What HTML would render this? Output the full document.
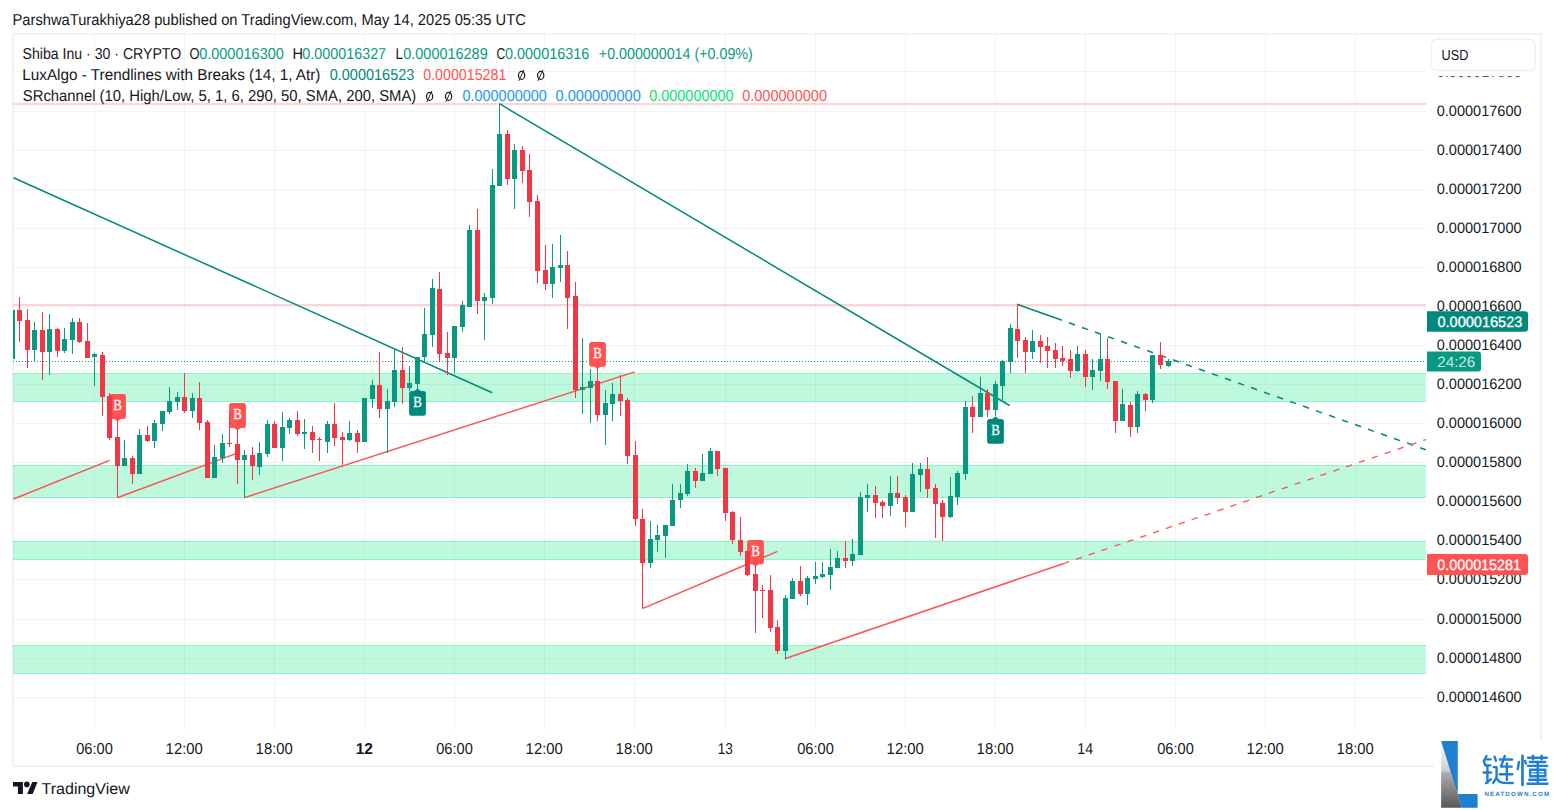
<!DOCTYPE html>
<html><head><meta charset="utf-8"><title>Shiba Inu chart</title>
<style>html,body{margin:0;padding:0;background:#fff;overflow:hidden}svg{display:block}text{text-rendering:geometricPrecision}</style>
</head><body>
<svg width="1554" height="810" viewBox="0 0 1554 810">
<rect width="1554" height="810" fill="#fff"/>
<g shape-rendering="crispEdges" fill="#f2f2f2">
<rect x="12" y="33" width="1530" height="2"/>
<rect x="12" y="765" width="1530" height="2"/>
<rect x="12" y="33" width="2" height="734"/>
<rect x="1540" y="33" width="2" height="734"/>
</g>
<text x="12.50" y="25" font-family="'Liberation Sans', sans-serif" font-size="15.8" font-weight="normal" fill="#131722" textLength="513.26" lengthAdjust="spacingAndGlyphs">ParshwaTurakhiya28 published on TradingView.com, May 14, 2025 05:35 UTC</text>
<defs><clipPath id="pane"><rect x="13" y="34" width="1413" height="697"/></clipPath></defs>
<g clip-path="url(#pane)">
<g shape-rendering="crispEdges" fill="rgba(42,46,57,0.06)">
<rect x="13" y="71" width="1413" height="1"/>
<rect x="13" y="111" width="1413" height="1"/>
<rect x="13" y="150" width="1413" height="1"/>
<rect x="13" y="189" width="1413" height="1"/>
<rect x="13" y="228" width="1413" height="1"/>
<rect x="13" y="267" width="1413" height="1"/>
<rect x="13" y="306" width="1413" height="1"/>
<rect x="13" y="345" width="1413" height="1"/>
<rect x="13" y="384" width="1413" height="1"/>
<rect x="13" y="423" width="1413" height="1"/>
<rect x="13" y="462" width="1413" height="1"/>
<rect x="13" y="501" width="1413" height="1"/>
<rect x="13" y="540" width="1413" height="1"/>
<rect x="13" y="579" width="1413" height="1"/>
<rect x="13" y="619" width="1413" height="1"/>
<rect x="13" y="658" width="1413" height="1"/>
<rect x="13" y="697" width="1413" height="1"/>
<rect x="94" y="34" width="1" height="697"/>
<rect x="184" y="34" width="1" height="697"/>
<rect x="274" y="34" width="1" height="697"/>
<rect x="364" y="34" width="1" height="697"/>
<rect x="454" y="34" width="1" height="697"/>
<rect x="544" y="34" width="1" height="697"/>
<rect x="634" y="34" width="1" height="697"/>
<rect x="725" y="34" width="1" height="697"/>
<rect x="815" y="34" width="1" height="697"/>
<rect x="905" y="34" width="1" height="697"/>
<rect x="995" y="34" width="1" height="697"/>
<rect x="1085" y="34" width="1" height="697"/>
<rect x="1175" y="34" width="1" height="697"/>
<rect x="1265" y="34" width="1" height="697"/>
<rect x="1355" y="34" width="1" height="697"/>
</g>
<g shape-rendering="crispEdges" fill="rgba(0,230,118,0.25)">
<rect x="13" y="373" width="1413" height="29"/>
<rect x="13" y="373" width="1413" height="1"/>
<rect x="13" y="401" width="1413" height="1"/>
<rect x="13" y="465" width="1413" height="33"/>
<rect x="13" y="465" width="1413" height="1"/>
<rect x="13" y="497" width="1413" height="1"/>
<rect x="13" y="541" width="1413" height="19"/>
<rect x="13" y="541" width="1413" height="1"/>
<rect x="13" y="559" width="1413" height="1"/>
<rect x="13" y="645" width="1413" height="29"/>
<rect x="13" y="645" width="1413" height="1"/>
<rect x="13" y="673" width="1413" height="1"/>
</g>
<g shape-rendering="crispEdges" fill="rgba(255,82,82,0.25)">
<rect x="13" y="103" width="1413" height="2"/>
<rect x="13" y="304" width="1413" height="2"/>
</g>
<line x1="13" y1="361.5" x2="1426" y2="361.5" stroke="#089981" stroke-width="1" stroke-dasharray="1 2" shape-rendering="crispEdges"/>
<line x1="13.5" y1="177.8" x2="492.2" y2="392.7" stroke="#00897b" stroke-width="1.5"/>
<line x1="499.4" y1="103.7" x2="1009.6" y2="405.5" stroke="#00897b" stroke-width="1.5"/>
<line x1="1016.9" y1="304.3" x2="1062" y2="320.3" stroke="#00897b" stroke-width="1.5"/>
<line x1="1069" y1="322.8298215595209" x2="1426" y2="449.8" stroke="#00897b" stroke-width="1.5" stroke-dasharray="6.4 7.4"/>
<line x1="13.5" y1="499" x2="109.6" y2="460.4" stroke="#ff5252" stroke-width="1.5"/>
<line x1="117.3" y1="497.7" x2="235.2" y2="453.9" stroke="#ff5252" stroke-width="1.5"/>
<line x1="244.4" y1="497.6" x2="634.7" y2="371.9" stroke="#ff5252" stroke-width="1.5"/>
<line x1="642.4" y1="608.6" x2="777.5" y2="551.4" stroke="#ff5252" stroke-width="1.5"/>
<line x1="784.8" y1="658.8" x2="1063.8" y2="563.5" stroke="#ff5252" stroke-width="1.5"/>
<line x1="1063.8" y1="563.5" x2="1426" y2="439.5" stroke="#ff5252" stroke-width="1.3" stroke-dasharray="6.4 7.2" stroke-dashoffset="0.9"/>
<path d="M111.6,394.1 H123.4 Q125.9,394.1 125.9,396.6 V416.5 Q125.9,419.0 123.4,419.0 H120.8 L117.5,421.3 L114.2,419.0 H111.6 Q109.1,419.0 109.1,416.5 V396.6 Q109.1,394.1 111.6,394.1 Z" fill="#ff5252"/>
<text x="113.33" y="410.25" font-family="'Liberation Serif', serif" font-size="15.4" font-weight="normal" fill="#fff" textLength="8.60" lengthAdjust="spacingAndGlyphs" stroke="#fff" stroke-width="0.35">B</text>
<path d="M231.6,403.0 H243.4 Q245.9,403.0 245.9,405.5 V425.6 Q245.9,428.1 243.4,428.1 H240.8 L237.5,430.4 L234.2,428.1 H231.6 Q229.1,428.1 229.1,425.6 V405.5 Q229.1,403.0 231.6,403.0 Z" fill="#ff5252"/>
<text x="233.33" y="419.25" font-family="'Liberation Serif', serif" font-size="15.4" font-weight="normal" fill="#fff" textLength="8.60" lengthAdjust="spacingAndGlyphs" stroke="#fff" stroke-width="0.35">B</text>
<path d="M591.6,342.0 H603.4 Q605.9,342.0 605.9,344.5 V364.2 Q605.9,366.7 603.4,366.7 H600.8 L597.5,368.9 L594.2,366.7 H591.6 Q589.1,366.7 589.1,364.2 V344.5 Q589.1,342.0 591.6,342.0 Z" fill="#ff5252"/>
<text x="593.33" y="358.05" font-family="'Liberation Serif', serif" font-size="15.4" font-weight="normal" fill="#fff" textLength="8.60" lengthAdjust="spacingAndGlyphs" stroke="#fff" stroke-width="0.35">B</text>
<path d="M749.6,540.0 H761.4 Q763.9,540.0 763.9,542.5 V561.8 Q763.9,564.3 761.4,564.3 H758.8 L755.5,566.8 L752.2,564.3 H749.6 Q747.1,564.3 747.1,561.8 V542.5 Q747.1,540.0 749.6,540.0 Z" fill="#ff5252"/>
<text x="751.33" y="555.85" font-family="'Liberation Serif', serif" font-size="15.4" font-weight="normal" fill="#fff" textLength="8.60" lengthAdjust="spacingAndGlyphs" stroke="#fff" stroke-width="0.35">B</text>
<path d="M411.6,391.1 H414.2 L417.5,388.6 L420.8,391.1 H423.4 Q425.9,391.1 425.9,393.6 V413.3 Q425.9,415.8 423.4,415.8 H411.6 Q409.1,415.8 409.1,413.3 V393.6 Q409.1,391.1 411.6,391.1 Z" fill="#00897b"/>
<text x="413.33" y="407.15" font-family="'Liberation Serif', serif" font-size="15.4" font-weight="normal" fill="#fff" textLength="8.60" lengthAdjust="spacingAndGlyphs" stroke="#fff" stroke-width="0.35">B</text>
<path d="M989.6,419.1 H992.2 L995.5,416.6 L998.8,419.1 H1001.4 Q1003.9,419.1 1003.9,421.6 V441.2 Q1003.9,443.7 1001.4,443.7 H989.6 Q987.1,443.7 987.1,441.2 V421.6 Q987.1,419.1 989.6,419.1 Z" fill="#00897b"/>
<text x="991.33" y="435.1" font-family="'Liberation Serif', serif" font-size="15.4" font-weight="normal" fill="#fff" textLength="8.60" lengthAdjust="spacingAndGlyphs" stroke="#fff" stroke-width="0.35">B</text>
<g shape-rendering="crispEdges">
<rect x="12" y="310" width="1" height="49" fill="#089981"/>
<rect x="10" y="310" width="5" height="49" fill="#089981"/>
<rect x="19" y="297" width="1" height="45" fill="#f23645"/>
<rect x="17" y="310" width="5" height="11" fill="#f23645"/>
<rect x="27" y="309" width="1" height="59" fill="#f23645"/>
<rect x="25" y="320" width="5" height="30" fill="#f23645"/>
<rect x="34" y="322" width="1" height="40" fill="#089981"/>
<rect x="32" y="330" width="5" height="20" fill="#089981"/>
<rect x="42" y="312" width="1" height="68" fill="#f23645"/>
<rect x="40" y="330" width="5" height="22" fill="#f23645"/>
<rect x="49" y="314" width="1" height="61" fill="#089981"/>
<rect x="47" y="329" width="5" height="23" fill="#089981"/>
<rect x="57" y="328" width="1" height="29" fill="#f23645"/>
<rect x="55" y="329" width="5" height="22" fill="#f23645"/>
<rect x="64" y="328" width="1" height="25" fill="#089981"/>
<rect x="62" y="339" width="5" height="12" fill="#089981"/>
<rect x="72" y="318" width="1" height="36" fill="#089981"/>
<rect x="70" y="322" width="5" height="18" fill="#089981"/>
<rect x="79" y="318" width="1" height="25" fill="#f23645"/>
<rect x="77" y="322" width="5" height="20" fill="#f23645"/>
<rect x="87" y="323" width="1" height="35" fill="#f23645"/>
<rect x="85" y="341" width="5" height="17" fill="#f23645"/>
<rect x="94" y="353" width="1" height="33" fill="#089981"/>
<rect x="92" y="354" width="5" height="3" fill="#089981"/>
<rect x="102" y="352" width="1" height="64" fill="#f23645"/>
<rect x="100" y="355" width="5" height="42" fill="#f23645"/>
<rect x="109" y="393" width="1" height="47" fill="#f23645"/>
<rect x="107" y="396" width="5" height="42" fill="#f23645"/>
<rect x="117" y="419" width="1" height="79" fill="#f23645"/>
<rect x="115" y="437" width="5" height="29" fill="#f23645"/>
<rect x="124" y="440" width="1" height="26" fill="#089981"/>
<rect x="122" y="458" width="5" height="8" fill="#089981"/>
<rect x="132" y="456" width="1" height="28" fill="#f23645"/>
<rect x="130" y="458" width="5" height="16" fill="#f23645"/>
<rect x="139" y="429" width="1" height="45" fill="#089981"/>
<rect x="137" y="435" width="5" height="39" fill="#089981"/>
<rect x="147" y="426" width="1" height="16" fill="#f23645"/>
<rect x="145" y="435" width="5" height="6" fill="#f23645"/>
<rect x="154" y="420" width="1" height="28" fill="#089981"/>
<rect x="152" y="423" width="5" height="18" fill="#089981"/>
<rect x="162" y="411" width="1" height="20" fill="#089981"/>
<rect x="160" y="411" width="5" height="13" fill="#089981"/>
<rect x="169" y="387" width="1" height="27" fill="#089981"/>
<rect x="167" y="401" width="5" height="11" fill="#089981"/>
<rect x="177" y="392" width="1" height="18" fill="#089981"/>
<rect x="175" y="397" width="5" height="5" fill="#089981"/>
<rect x="184" y="373" width="1" height="40" fill="#f23645"/>
<rect x="182" y="397" width="5" height="14" fill="#f23645"/>
<rect x="192" y="393" width="1" height="25" fill="#089981"/>
<rect x="190" y="398" width="5" height="13" fill="#089981"/>
<rect x="199" y="382" width="1" height="48" fill="#f23645"/>
<rect x="197" y="398" width="5" height="25" fill="#f23645"/>
<rect x="207" y="420" width="1" height="58" fill="#f23645"/>
<rect x="205" y="422" width="5" height="56" fill="#f23645"/>
<rect x="214" y="445" width="1" height="33" fill="#089981"/>
<rect x="212" y="457" width="5" height="21" fill="#089981"/>
<rect x="222" y="434" width="1" height="29" fill="#089981"/>
<rect x="220" y="443" width="5" height="15" fill="#089981"/>
<rect x="229" y="413" width="1" height="34" fill="#f23645"/>
<rect x="227" y="443" width="5" height="1" fill="#f23645"/>
<rect x="237" y="430" width="1" height="54" fill="#f23645"/>
<rect x="235" y="444" width="5" height="16" fill="#f23645"/>
<rect x="244" y="450" width="1" height="48" fill="#089981"/>
<rect x="242" y="455" width="5" height="5" fill="#089981"/>
<rect x="252" y="447" width="1" height="33" fill="#f23645"/>
<rect x="250" y="455" width="5" height="11" fill="#f23645"/>
<rect x="259" y="442" width="1" height="33" fill="#089981"/>
<rect x="257" y="453" width="5" height="14" fill="#089981"/>
<rect x="267" y="420" width="1" height="37" fill="#089981"/>
<rect x="265" y="424" width="5" height="30" fill="#089981"/>
<rect x="274" y="421" width="1" height="27" fill="#f23645"/>
<rect x="272" y="424" width="5" height="24" fill="#f23645"/>
<rect x="282" y="412" width="1" height="49" fill="#089981"/>
<rect x="280" y="427" width="5" height="21" fill="#089981"/>
<rect x="289" y="418" width="1" height="16" fill="#089981"/>
<rect x="287" y="420" width="5" height="8" fill="#089981"/>
<rect x="297" y="411" width="1" height="25" fill="#f23645"/>
<rect x="295" y="420" width="5" height="14" fill="#f23645"/>
<rect x="304" y="419" width="1" height="30" fill="#089981"/>
<rect x="302" y="432" width="5" height="2" fill="#089981"/>
<rect x="312" y="426" width="1" height="27" fill="#f23645"/>
<rect x="310" y="432" width="5" height="8" fill="#f23645"/>
<rect x="319" y="437" width="1" height="24" fill="#f23645"/>
<rect x="317" y="439" width="5" height="1" fill="#f23645"/>
<rect x="327" y="421" width="1" height="32" fill="#089981"/>
<rect x="325" y="424" width="5" height="18" fill="#089981"/>
<rect x="334" y="403" width="1" height="43" fill="#f23645"/>
<rect x="332" y="424" width="5" height="14" fill="#f23645"/>
<rect x="342" y="432" width="1" height="33" fill="#f23645"/>
<rect x="340" y="437" width="5" height="3" fill="#f23645"/>
<rect x="349" y="421" width="1" height="20" fill="#089981"/>
<rect x="347" y="433" width="5" height="7" fill="#089981"/>
<rect x="357" y="430" width="1" height="23" fill="#f23645"/>
<rect x="355" y="433" width="5" height="9" fill="#f23645"/>
<rect x="364" y="398" width="1" height="44" fill="#089981"/>
<rect x="362" y="398" width="5" height="44" fill="#089981"/>
<rect x="372" y="380" width="1" height="28" fill="#089981"/>
<rect x="370" y="385" width="5" height="14" fill="#089981"/>
<rect x="379" y="352" width="1" height="66" fill="#f23645"/>
<rect x="377" y="385" width="5" height="24" fill="#f23645"/>
<rect x="387" y="389" width="1" height="64" fill="#089981"/>
<rect x="385" y="401" width="5" height="8" fill="#089981"/>
<rect x="394" y="349" width="1" height="58" fill="#089981"/>
<rect x="392" y="370" width="5" height="32" fill="#089981"/>
<rect x="402" y="347" width="1" height="57" fill="#f23645"/>
<rect x="400" y="370" width="5" height="18" fill="#f23645"/>
<rect x="409" y="366" width="1" height="25" fill="#089981"/>
<rect x="407" y="383" width="5" height="5" fill="#089981"/>
<rect x="417" y="357" width="1" height="32" fill="#089981"/>
<rect x="415" y="357" width="5" height="27" fill="#089981"/>
<rect x="424" y="308" width="1" height="55" fill="#089981"/>
<rect x="422" y="334" width="5" height="23" fill="#089981"/>
<rect x="432" y="279" width="1" height="68" fill="#089981"/>
<rect x="430" y="288" width="5" height="47" fill="#089981"/>
<rect x="439" y="272" width="1" height="90" fill="#f23645"/>
<rect x="437" y="289" width="5" height="65" fill="#f23645"/>
<rect x="447" y="332" width="1" height="43" fill="#f23645"/>
<rect x="445" y="353" width="5" height="5" fill="#f23645"/>
<rect x="454" y="326" width="1" height="47" fill="#089981"/>
<rect x="452" y="326" width="5" height="32" fill="#089981"/>
<rect x="462" y="301" width="1" height="31" fill="#089981"/>
<rect x="460" y="305" width="5" height="22" fill="#089981"/>
<rect x="469" y="225" width="1" height="82" fill="#089981"/>
<rect x="467" y="230" width="5" height="77" fill="#089981"/>
<rect x="477" y="209" width="1" height="105" fill="#f23645"/>
<rect x="475" y="230" width="5" height="71" fill="#f23645"/>
<rect x="484" y="293" width="1" height="47" fill="#089981"/>
<rect x="482" y="297" width="5" height="4" fill="#089981"/>
<rect x="492" y="169" width="1" height="135" fill="#089981"/>
<rect x="490" y="185" width="5" height="113" fill="#089981"/>
<rect x="499" y="104" width="1" height="82" fill="#089981"/>
<rect x="497" y="134" width="5" height="52" fill="#089981"/>
<rect x="507" y="130" width="1" height="55" fill="#f23645"/>
<rect x="505" y="134" width="5" height="45" fill="#f23645"/>
<rect x="514" y="144" width="1" height="65" fill="#089981"/>
<rect x="512" y="150" width="5" height="29" fill="#089981"/>
<rect x="522" y="146" width="1" height="37" fill="#f23645"/>
<rect x="520" y="150" width="5" height="21" fill="#f23645"/>
<rect x="529" y="154" width="1" height="63" fill="#f23645"/>
<rect x="527" y="170" width="5" height="32" fill="#f23645"/>
<rect x="537" y="195" width="1" height="88" fill="#f23645"/>
<rect x="535" y="201" width="5" height="70" fill="#f23645"/>
<rect x="545" y="245" width="1" height="45" fill="#f23645"/>
<rect x="543" y="270" width="5" height="14" fill="#f23645"/>
<rect x="552" y="244" width="1" height="54" fill="#089981"/>
<rect x="550" y="267" width="5" height="17" fill="#089981"/>
<rect x="560" y="235" width="1" height="47" fill="#089981"/>
<rect x="558" y="265" width="5" height="3" fill="#089981"/>
<rect x="567" y="251" width="1" height="78" fill="#f23645"/>
<rect x="565" y="265" width="5" height="33" fill="#f23645"/>
<rect x="575" y="282" width="1" height="116" fill="#f23645"/>
<rect x="573" y="296" width="5" height="94" fill="#f23645"/>
<rect x="582" y="338" width="1" height="76" fill="#089981"/>
<rect x="580" y="387" width="5" height="3" fill="#089981"/>
<rect x="590" y="369" width="1" height="54" fill="#089981"/>
<rect x="588" y="381" width="5" height="7" fill="#089981"/>
<rect x="597" y="369" width="1" height="52" fill="#f23645"/>
<rect x="595" y="381" width="5" height="34" fill="#f23645"/>
<rect x="605" y="390" width="1" height="55" fill="#089981"/>
<rect x="603" y="403" width="5" height="12" fill="#089981"/>
<rect x="612" y="383" width="1" height="38" fill="#089981"/>
<rect x="610" y="394" width="5" height="10" fill="#089981"/>
<rect x="620" y="375" width="1" height="41" fill="#f23645"/>
<rect x="618" y="394" width="5" height="7" fill="#f23645"/>
<rect x="627" y="398" width="1" height="66" fill="#f23645"/>
<rect x="625" y="400" width="5" height="56" fill="#f23645"/>
<rect x="635" y="441" width="1" height="85" fill="#f23645"/>
<rect x="633" y="455" width="5" height="64" fill="#f23645"/>
<rect x="642" y="509" width="1" height="99" fill="#f23645"/>
<rect x="640" y="519" width="5" height="44" fill="#f23645"/>
<rect x="650" y="521" width="1" height="47" fill="#089981"/>
<rect x="648" y="539" width="5" height="24" fill="#089981"/>
<rect x="657" y="525" width="1" height="27" fill="#089981"/>
<rect x="655" y="535" width="5" height="5" fill="#089981"/>
<rect x="665" y="525" width="1" height="33" fill="#089981"/>
<rect x="663" y="525" width="5" height="11" fill="#089981"/>
<rect x="672" y="484" width="1" height="42" fill="#089981"/>
<rect x="670" y="500" width="5" height="26" fill="#089981"/>
<rect x="680" y="484" width="1" height="24" fill="#089981"/>
<rect x="678" y="493" width="5" height="7" fill="#089981"/>
<rect x="687" y="464" width="1" height="32" fill="#089981"/>
<rect x="685" y="471" width="5" height="23" fill="#089981"/>
<rect x="695" y="468" width="1" height="20" fill="#f23645"/>
<rect x="693" y="471" width="5" height="10" fill="#f23645"/>
<rect x="702" y="454" width="1" height="27" fill="#089981"/>
<rect x="700" y="473" width="5" height="8" fill="#089981"/>
<rect x="710" y="448" width="1" height="26" fill="#089981"/>
<rect x="708" y="451" width="5" height="23" fill="#089981"/>
<rect x="717" y="451" width="1" height="25" fill="#f23645"/>
<rect x="715" y="451" width="5" height="18" fill="#f23645"/>
<rect x="725" y="468" width="1" height="53" fill="#f23645"/>
<rect x="723" y="468" width="5" height="45" fill="#f23645"/>
<rect x="732" y="511" width="1" height="33" fill="#f23645"/>
<rect x="730" y="512" width="5" height="28" fill="#f23645"/>
<rect x="740" y="517" width="1" height="39" fill="#f23645"/>
<rect x="738" y="540" width="5" height="12" fill="#f23645"/>
<rect x="747" y="551" width="1" height="25" fill="#f23645"/>
<rect x="745" y="551" width="5" height="24" fill="#f23645"/>
<rect x="755" y="566" width="1" height="67" fill="#f23645"/>
<rect x="753" y="574" width="5" height="17" fill="#f23645"/>
<rect x="762" y="585" width="1" height="33" fill="#f23645"/>
<rect x="760" y="590" width="5" height="1" fill="#f23645"/>
<rect x="770" y="575" width="1" height="57" fill="#f23645"/>
<rect x="768" y="590" width="5" height="38" fill="#f23645"/>
<rect x="777" y="620" width="1" height="34" fill="#f23645"/>
<rect x="775" y="627" width="5" height="24" fill="#f23645"/>
<rect x="785" y="595" width="1" height="64" fill="#089981"/>
<rect x="783" y="598" width="5" height="53" fill="#089981"/>
<rect x="792" y="578" width="1" height="21" fill="#089981"/>
<rect x="790" y="581" width="5" height="18" fill="#089981"/>
<rect x="800" y="566" width="1" height="30" fill="#f23645"/>
<rect x="798" y="581" width="5" height="13" fill="#f23645"/>
<rect x="807" y="576" width="1" height="29" fill="#089981"/>
<rect x="805" y="578" width="5" height="16" fill="#089981"/>
<rect x="815" y="562" width="1" height="22" fill="#089981"/>
<rect x="813" y="576" width="5" height="3" fill="#089981"/>
<rect x="822" y="562" width="1" height="16" fill="#089981"/>
<rect x="820" y="574" width="5" height="3" fill="#089981"/>
<rect x="830" y="549" width="1" height="41" fill="#089981"/>
<rect x="828" y="567" width="5" height="8" fill="#089981"/>
<rect x="837" y="551" width="1" height="17" fill="#089981"/>
<rect x="835" y="558" width="5" height="10" fill="#089981"/>
<rect x="845" y="541" width="1" height="27" fill="#f23645"/>
<rect x="843" y="558" width="5" height="3" fill="#f23645"/>
<rect x="852" y="539" width="1" height="27" fill="#089981"/>
<rect x="850" y="554" width="5" height="7" fill="#089981"/>
<rect x="860" y="492" width="1" height="63" fill="#089981"/>
<rect x="858" y="497" width="5" height="58" fill="#089981"/>
<rect x="867" y="484" width="1" height="28" fill="#089981"/>
<rect x="865" y="495" width="5" height="3" fill="#089981"/>
<rect x="875" y="486" width="1" height="32" fill="#f23645"/>
<rect x="873" y="495" width="5" height="8" fill="#f23645"/>
<rect x="882" y="500" width="1" height="18" fill="#f23645"/>
<rect x="880" y="502" width="5" height="4" fill="#f23645"/>
<rect x="890" y="476" width="1" height="40" fill="#089981"/>
<rect x="888" y="493" width="5" height="13" fill="#089981"/>
<rect x="897" y="476" width="1" height="28" fill="#f23645"/>
<rect x="895" y="493" width="5" height="5" fill="#f23645"/>
<rect x="905" y="495" width="1" height="32" fill="#f23645"/>
<rect x="903" y="497" width="5" height="15" fill="#f23645"/>
<rect x="912" y="463" width="1" height="49" fill="#089981"/>
<rect x="910" y="474" width="5" height="38" fill="#089981"/>
<rect x="920" y="463" width="1" height="29" fill="#089981"/>
<rect x="918" y="469" width="5" height="6" fill="#089981"/>
<rect x="927" y="457" width="1" height="41" fill="#f23645"/>
<rect x="925" y="469" width="5" height="20" fill="#f23645"/>
<rect x="935" y="484" width="1" height="54" fill="#f23645"/>
<rect x="933" y="488" width="5" height="16" fill="#f23645"/>
<rect x="942" y="500" width="1" height="41" fill="#f23645"/>
<rect x="940" y="503" width="5" height="14" fill="#f23645"/>
<rect x="950" y="477" width="1" height="41" fill="#089981"/>
<rect x="948" y="496" width="5" height="21" fill="#089981"/>
<rect x="957" y="471" width="1" height="34" fill="#089981"/>
<rect x="955" y="473" width="5" height="24" fill="#089981"/>
<rect x="965" y="401" width="1" height="79" fill="#089981"/>
<rect x="963" y="407" width="5" height="67" fill="#089981"/>
<rect x="972" y="396" width="1" height="37" fill="#f23645"/>
<rect x="970" y="407" width="5" height="10" fill="#f23645"/>
<rect x="980" y="377" width="1" height="40" fill="#089981"/>
<rect x="978" y="393" width="5" height="24" fill="#089981"/>
<rect x="987" y="389" width="1" height="28" fill="#f23645"/>
<rect x="985" y="393" width="5" height="17" fill="#f23645"/>
<rect x="995" y="381" width="1" height="35" fill="#089981"/>
<rect x="993" y="384" width="5" height="26" fill="#089981"/>
<rect x="1002" y="360" width="1" height="40" fill="#089981"/>
<rect x="1000" y="361" width="5" height="25" fill="#089981"/>
<rect x="1010" y="324" width="1" height="49" fill="#089981"/>
<rect x="1008" y="328" width="5" height="34" fill="#089981"/>
<rect x="1017" y="304" width="1" height="54" fill="#f23645"/>
<rect x="1015" y="329" width="5" height="12" fill="#f23645"/>
<rect x="1025" y="337" width="1" height="36" fill="#f23645"/>
<rect x="1023" y="340" width="5" height="12" fill="#f23645"/>
<rect x="1032" y="330" width="1" height="29" fill="#089981"/>
<rect x="1030" y="341" width="5" height="11" fill="#089981"/>
<rect x="1040" y="335" width="1" height="28" fill="#f23645"/>
<rect x="1038" y="341" width="5" height="6" fill="#f23645"/>
<rect x="1047" y="337" width="1" height="31" fill="#f23645"/>
<rect x="1045" y="346" width="5" height="5" fill="#f23645"/>
<rect x="1055" y="343" width="1" height="25" fill="#f23645"/>
<rect x="1053" y="350" width="5" height="9" fill="#f23645"/>
<rect x="1062" y="346" width="1" height="20" fill="#f23645"/>
<rect x="1060" y="358" width="5" height="3" fill="#f23645"/>
<rect x="1070" y="350" width="1" height="28" fill="#f23645"/>
<rect x="1068" y="359" width="5" height="12" fill="#f23645"/>
<rect x="1077" y="346" width="1" height="26" fill="#089981"/>
<rect x="1075" y="354" width="5" height="17" fill="#089981"/>
<rect x="1085" y="350" width="1" height="37" fill="#f23645"/>
<rect x="1083" y="354" width="5" height="23" fill="#f23645"/>
<rect x="1092" y="359" width="1" height="31" fill="#089981"/>
<rect x="1090" y="370" width="5" height="7" fill="#089981"/>
<rect x="1100" y="335" width="1" height="46" fill="#089981"/>
<rect x="1098" y="359" width="5" height="12" fill="#089981"/>
<rect x="1107" y="338" width="1" height="51" fill="#f23645"/>
<rect x="1105" y="359" width="5" height="23" fill="#f23645"/>
<rect x="1115" y="381" width="1" height="52" fill="#f23645"/>
<rect x="1113" y="381" width="5" height="40" fill="#f23645"/>
<rect x="1122" y="389" width="1" height="32" fill="#089981"/>
<rect x="1120" y="404" width="5" height="17" fill="#089981"/>
<rect x="1130" y="402" width="1" height="35" fill="#f23645"/>
<rect x="1128" y="405" width="5" height="22" fill="#f23645"/>
<rect x="1137" y="391" width="1" height="42" fill="#089981"/>
<rect x="1135" y="394" width="5" height="33" fill="#089981"/>
<rect x="1145" y="393" width="1" height="18" fill="#f23645"/>
<rect x="1143" y="394" width="5" height="6" fill="#f23645"/>
<rect x="1152" y="355" width="1" height="48" fill="#089981"/>
<rect x="1150" y="355" width="5" height="45" fill="#089981"/>
<rect x="1160" y="342" width="1" height="27" fill="#f23645"/>
<rect x="1158" y="355" width="5" height="10" fill="#f23645"/>
<rect x="1168" y="359" width="1" height="8" fill="#089981"/>
<rect x="1166" y="361" width="5" height="5" fill="#089981"/>
</g>
</g>
<text x="22.56" y="59" font-family="'Liberation Sans', sans-serif" font-size="15.8" font-weight="normal" fill="#131722" textLength="158.61" lengthAdjust="spacingAndGlyphs">Shiba Inu · 30 · CRYPTO</text>
<text x="189.59" y="59" font-family="'Liberation Sans', sans-serif" font-size="15.8" font-weight="normal" fill="#131722" textLength="10.03" lengthAdjust="spacingAndGlyphs">O</text>
<text x="199.13" y="59" font-family="'Liberation Sans', sans-serif" font-size="15.8" font-weight="normal" fill="#089981" textLength="84.73" lengthAdjust="spacingAndGlyphs">0.000016300</text>
<text x="292.51" y="59" font-family="'Liberation Sans', sans-serif" font-size="15.8" font-weight="normal" fill="#131722" textLength="10.47" lengthAdjust="spacingAndGlyphs">H</text>
<text x="302.34" y="59" font-family="'Liberation Sans', sans-serif" font-size="15.8" font-weight="normal" fill="#089981" textLength="83.78" lengthAdjust="spacingAndGlyphs">0.000016327</text>
<text x="395.60" y="59" font-family="'Liberation Sans', sans-serif" font-size="15.8" font-weight="normal" fill="#131722" textLength="7.44" lengthAdjust="spacingAndGlyphs">L</text>
<text x="403.24" y="59" font-family="'Liberation Sans', sans-serif" font-size="15.8" font-weight="normal" fill="#089981" textLength="84.45" lengthAdjust="spacingAndGlyphs">0.000016289</text>
<text x="496.48" y="59" font-family="'Liberation Sans', sans-serif" font-size="15.8" font-weight="normal" fill="#131722" textLength="8.78" lengthAdjust="spacingAndGlyphs">C</text>
<text x="504.93" y="59" font-family="'Liberation Sans', sans-serif" font-size="15.8" font-weight="normal" fill="#089981" textLength="84.50" lengthAdjust="spacingAndGlyphs">0.000016316</text>
<text x="598.80" y="59" font-family="'Liberation Sans', sans-serif" font-size="15.8" font-weight="normal" fill="#089981" textLength="153.98" lengthAdjust="spacingAndGlyphs">+0.000000014 (+0.09%)</text>
<text x="22.25" y="80" font-family="'Liberation Sans', sans-serif" font-size="15.8" font-weight="normal" fill="#131722" textLength="298.19" lengthAdjust="spacingAndGlyphs">LuxAlgo - Trendlines with Breaks (14, 1, Atr)</text>
<text x="329.73" y="80" font-family="'Liberation Sans', sans-serif" font-size="15.8" font-weight="normal" fill="#00897b" textLength="84.60" lengthAdjust="spacingAndGlyphs">0.000016523</text>
<text x="423.24" y="80" font-family="'Liberation Sans', sans-serif" font-size="15.8" font-weight="normal" fill="#ff5252" textLength="83.15" lengthAdjust="spacingAndGlyphs">0.000015281</text>
<ellipse cx="521.6" cy="75.4" rx="3.1" ry="4.0" fill="none" stroke="#131722" stroke-width="1.2"/>
<line x1="524.0" y1="69.80000000000001" x2="518.8000000000001" y2="80.9" stroke="#131722" stroke-width="0.9"/>
<ellipse cx="540.7" cy="75.4" rx="3.1" ry="4.0" fill="none" stroke="#131722" stroke-width="1.2"/>
<line x1="543.1" y1="69.80000000000001" x2="537.9000000000001" y2="80.9" stroke="#131722" stroke-width="0.9"/>
<text x="22.83" y="101" font-family="'Liberation Sans', sans-serif" font-size="15.8" font-weight="normal" fill="#131722" textLength="393.49" lengthAdjust="spacingAndGlyphs">SRchannel (10, High/Low, 5, 1, 6, 290, 50, SMA, 200, SMA)</text>
<ellipse cx="429.6" cy="96.4" rx="3.1" ry="4.0" fill="none" stroke="#131722" stroke-width="1.2"/>
<line x1="432.0" y1="90.80000000000001" x2="426.8" y2="101.9" stroke="#131722" stroke-width="0.9"/>
<ellipse cx="448.6" cy="96.4" rx="3.1" ry="4.0" fill="none" stroke="#131722" stroke-width="1.2"/>
<line x1="451.0" y1="90.80000000000001" x2="445.8" y2="101.9" stroke="#131722" stroke-width="0.9"/>
<text x="462.44" y="101" font-family="'Liberation Sans', sans-serif" font-size="15.8" font-weight="normal" fill="#2196f3" textLength="84.43" lengthAdjust="spacingAndGlyphs">0.000000000</text>
<text x="555.53" y="101" font-family="'Liberation Sans', sans-serif" font-size="15.8" font-weight="normal" fill="#2196f3" textLength="85.34" lengthAdjust="spacingAndGlyphs">0.000000000</text>
<text x="649.24" y="101" font-family="'Liberation Sans', sans-serif" font-size="15.8" font-weight="normal" fill="#00e676" textLength="84.33" lengthAdjust="spacingAndGlyphs">0.000000000</text>
<text x="742.13" y="101" font-family="'Liberation Sans', sans-serif" font-size="15.8" font-weight="normal" fill="#ff5252" textLength="84.84" lengthAdjust="spacingAndGlyphs">0.000000000</text>
<text x="1436.73" y="77.1" font-family="'Liberation Sans', sans-serif" font-size="15" font-weight="normal" fill="#131722" textLength="84.84" lengthAdjust="spacingAndGlyphs">0.000017800</text>
<text x="1436.73" y="116.4" font-family="'Liberation Sans', sans-serif" font-size="15" font-weight="normal" fill="#131722" textLength="84.84" lengthAdjust="spacingAndGlyphs">0.000017600</text>
<text x="1436.73" y="155.4" font-family="'Liberation Sans', sans-serif" font-size="15" font-weight="normal" fill="#131722" textLength="84.84" lengthAdjust="spacingAndGlyphs">0.000017400</text>
<text x="1436.73" y="194.4" font-family="'Liberation Sans', sans-serif" font-size="15" font-weight="normal" fill="#131722" textLength="84.84" lengthAdjust="spacingAndGlyphs">0.000017200</text>
<text x="1436.73" y="233.4" font-family="'Liberation Sans', sans-serif" font-size="15" font-weight="normal" fill="#131722" textLength="84.84" lengthAdjust="spacingAndGlyphs">0.000017000</text>
<text x="1436.73" y="272.4" font-family="'Liberation Sans', sans-serif" font-size="15" font-weight="normal" fill="#131722" textLength="84.84" lengthAdjust="spacingAndGlyphs">0.000016800</text>
<text x="1436.73" y="311.4" font-family="'Liberation Sans', sans-serif" font-size="15" font-weight="normal" fill="#131722" textLength="84.84" lengthAdjust="spacingAndGlyphs">0.000016600</text>
<text x="1436.73" y="350.4" font-family="'Liberation Sans', sans-serif" font-size="15" font-weight="normal" fill="#131722" textLength="84.84" lengthAdjust="spacingAndGlyphs">0.000016400</text>
<text x="1436.73" y="389.4" font-family="'Liberation Sans', sans-serif" font-size="15" font-weight="normal" fill="#131722" textLength="84.84" lengthAdjust="spacingAndGlyphs">0.000016200</text>
<text x="1436.73" y="428.4" font-family="'Liberation Sans', sans-serif" font-size="15" font-weight="normal" fill="#131722" textLength="84.84" lengthAdjust="spacingAndGlyphs">0.000016000</text>
<text x="1436.73" y="467.4" font-family="'Liberation Sans', sans-serif" font-size="15" font-weight="normal" fill="#131722" textLength="84.84" lengthAdjust="spacingAndGlyphs">0.000015800</text>
<text x="1436.73" y="506.4" font-family="'Liberation Sans', sans-serif" font-size="15" font-weight="normal" fill="#131722" textLength="84.84" lengthAdjust="spacingAndGlyphs">0.000015600</text>
<text x="1436.73" y="545.4" font-family="'Liberation Sans', sans-serif" font-size="15" font-weight="normal" fill="#131722" textLength="84.84" lengthAdjust="spacingAndGlyphs">0.000015400</text>
<text x="1436.73" y="584.4" font-family="'Liberation Sans', sans-serif" font-size="15" font-weight="normal" fill="#131722" textLength="84.84" lengthAdjust="spacingAndGlyphs">0.000015200</text>
<text x="1436.73" y="624.4" font-family="'Liberation Sans', sans-serif" font-size="15" font-weight="normal" fill="#131722" textLength="84.84" lengthAdjust="spacingAndGlyphs">0.000015000</text>
<text x="1436.73" y="663.4" font-family="'Liberation Sans', sans-serif" font-size="15" font-weight="normal" fill="#131722" textLength="84.84" lengthAdjust="spacingAndGlyphs">0.000014800</text>
<text x="1436.73" y="702.4" font-family="'Liberation Sans', sans-serif" font-size="15" font-weight="normal" fill="#131722" textLength="84.84" lengthAdjust="spacingAndGlyphs">0.000014600</text>
<path d="M1427,311.2 H1525 Q1528,311.2 1528,314.2 V328.8 Q1528,331.8 1525,331.8 H1427 Z" fill="#00897b"/>
<text x="1437.43" y="326.6" font-family="'Liberation Sans', sans-serif" font-size="15" font-weight="normal" fill="#fff" textLength="84.91" lengthAdjust="spacingAndGlyphs" stroke="#fff" stroke-width="0.3">0.000016523</text>
<path d="M1427,351.4 H1478 Q1481,351.4 1481,354.4 V368.6 Q1481,371.6 1478,371.6 H1427 Z" fill="#089981"/>
<text x="1437.24" y="366.6" font-family="'Liberation Sans', sans-serif" font-size="15" font-weight="normal" fill="rgba(255,255,255,0.8)" textLength="38.03" lengthAdjust="spacingAndGlyphs">24:26</text>
<path d="M1427,553.9 H1525 Q1528,553.9 1528,556.9 V571.9 Q1528,574.9 1525,574.9 H1427 Z" fill="#ff5252"/>
<text x="1437.34" y="569.8" font-family="'Liberation Sans', sans-serif" font-size="15" font-weight="normal" fill="#fff" textLength="83.56" lengthAdjust="spacingAndGlyphs" stroke="#fff" stroke-width="0.3">0.000015281</text>
<rect x="1426" y="35" width="114" height="41.3" fill="#fff"/>
<rect x="1431.5" y="39.5" width="103.5" height="31" rx="5" fill="#fff" stroke="#efefef" stroke-width="1.3"/>
<text x="1441.62" y="59.8" font-family="'Liberation Sans', sans-serif" font-size="14.5" font-weight="normal" fill="#131722" textLength="26.79" lengthAdjust="spacingAndGlyphs">USD</text>
<text x="76.18" y="754" font-family="'Liberation Sans', sans-serif" font-size="15.8" font-weight="normal" fill="#131722" textLength="36.64" lengthAdjust="spacingAndGlyphs">06:00</text>
<text x="165.62" y="754" font-family="'Liberation Sans', sans-serif" font-size="15.8" font-weight="normal" fill="#131722" textLength="37.21" lengthAdjust="spacingAndGlyphs">12:00</text>
<text x="255.62" y="754" font-family="'Liberation Sans', sans-serif" font-size="15.8" font-weight="normal" fill="#131722" textLength="37.21" lengthAdjust="spacingAndGlyphs">18:00</text>
<text x="355.73" y="754" font-family="'Liberation Sans', sans-serif" font-size="15.8" font-weight="bold" fill="#131722" textLength="17.19" lengthAdjust="spacingAndGlyphs">12</text>
<text x="436.18" y="754" font-family="'Liberation Sans', sans-serif" font-size="15.8" font-weight="normal" fill="#131722" textLength="36.64" lengthAdjust="spacingAndGlyphs">06:00</text>
<text x="525.62" y="754" font-family="'Liberation Sans', sans-serif" font-size="15.8" font-weight="normal" fill="#131722" textLength="37.21" lengthAdjust="spacingAndGlyphs">12:00</text>
<text x="615.62" y="754" font-family="'Liberation Sans', sans-serif" font-size="15.8" font-weight="normal" fill="#131722" textLength="37.21" lengthAdjust="spacingAndGlyphs">18:00</text>
<text x="717.71" y="754" font-family="'Liberation Sans', sans-serif" font-size="15.8" font-weight="normal" fill="#131722" textLength="15.13" lengthAdjust="spacingAndGlyphs">13</text>
<text x="797.18" y="754" font-family="'Liberation Sans', sans-serif" font-size="15.8" font-weight="normal" fill="#131722" textLength="36.64" lengthAdjust="spacingAndGlyphs">06:00</text>
<text x="886.62" y="754" font-family="'Liberation Sans', sans-serif" font-size="15.8" font-weight="normal" fill="#131722" textLength="37.21" lengthAdjust="spacingAndGlyphs">12:00</text>
<text x="976.62" y="754" font-family="'Liberation Sans', sans-serif" font-size="15.8" font-weight="normal" fill="#131722" textLength="37.21" lengthAdjust="spacingAndGlyphs">18:00</text>
<text x="1077.27" y="754" font-family="'Liberation Sans', sans-serif" font-size="15.8" font-weight="normal" fill="#131722" textLength="15.80" lengthAdjust="spacingAndGlyphs">14</text>
<text x="1157.18" y="754" font-family="'Liberation Sans', sans-serif" font-size="15.8" font-weight="normal" fill="#131722" textLength="36.64" lengthAdjust="spacingAndGlyphs">06:00</text>
<text x="1246.62" y="754" font-family="'Liberation Sans', sans-serif" font-size="15.8" font-weight="normal" fill="#131722" textLength="37.21" lengthAdjust="spacingAndGlyphs">12:00</text>
<text x="1336.62" y="754" font-family="'Liberation Sans', sans-serif" font-size="15.8" font-weight="normal" fill="#131722" textLength="37.21" lengthAdjust="spacingAndGlyphs">18:00</text>
<g fill="#131722">
<path d="M13,781.9 H22.9 V793.9 H17.9 V786.4 H13 Z"/>
<circle cx="26.8" cy="784.4" r="2.8"/>
<path d="M32.3,781.9 H37.5 L32.7,793.9 H27.1 Z"/>
</g>
<text x="41.54" y="794" font-family="'Liberation Sans', sans-serif" font-size="15.8" font-weight="normal" fill="#131722" textLength="88.22" lengthAdjust="spacingAndGlyphs">TradingView</text>
<rect x="1434" y="740" width="120" height="70" fill="#fff"/>
<defs><linearGradient id="lg" x1="0" y1="0" x2="0" y2="1"><stop offset="0" stop-color="#fafafa"/><stop offset="0.45" stop-color="#cfcfcf"/><stop offset="0.47" stop-color="#adadad"/><stop offset="1" stop-color="#575757"/></linearGradient></defs>
<path d="M1441.1,741 L1461.7,807.8 L1441.1,807.8 Z" fill="url(#lg)"/>
<path d="M1441.1,741 H1457.8 V793.9 H1477.6 V807.8 H1461.7 Z" fill="#1f7fd0"/>
<path d="M1486.56,756.00 L1483.76,761.11 L1485.22,765.11" fill="none" stroke="#1e7fd2" stroke-width="2.4" stroke-linecap="round" stroke-linejoin="round"/>
<path d="M1485.67,759.33 L1490.56,759.33" fill="none" stroke="#1e7fd2" stroke-width="2.4" stroke-linecap="round" stroke-linejoin="round"/>
<path d="M1485.22,765.33 L1490.33,765.33" fill="none" stroke="#1e7fd2" stroke-width="2.4" stroke-linecap="round" stroke-linejoin="round"/>
<path d="M1483.67,772.44 L1491.00,772.44" fill="none" stroke="#1e7fd2" stroke-width="2.4" stroke-linecap="round" stroke-linejoin="round"/>
<path d="M1487.44,765.33 L1487.44,782.67" fill="none" stroke="#1e7fd2" stroke-width="2.4" stroke-linecap="round" stroke-linejoin="round"/>
<path d="M1485.89,783.11 L1491.00,779.33" fill="none" stroke="#1e7fd2" stroke-width="2.4" stroke-linecap="round" stroke-linejoin="round"/>
<path d="M1494.56,756.67 L1495.89,760.67" fill="none" stroke="#1e7fd2" stroke-width="2.4" stroke-linecap="round" stroke-linejoin="round"/>
<path d="M1493.67,767.11 L1496.56,767.11 L1496.56,777.33 L1493.22,782.89" fill="none" stroke="#1e7fd2" stroke-width="2.4" stroke-linecap="round" stroke-linejoin="round"/>
<path d="M1496.56,778.67 L1499.67,781.78 L1503.22,782.89 L1512.78,782.98" fill="none" stroke="#1e7fd2" stroke-width="2.4" stroke-linecap="round" stroke-linejoin="round"/>
<path d="M1499.89,759.56 L1512.11,759.56" fill="none" stroke="#1e7fd2" stroke-width="2.4" stroke-linecap="round" stroke-linejoin="round"/>
<path d="M1504.78,756.00 L1501.00,766.67 L1511.67,766.67" fill="none" stroke="#1e7fd2" stroke-width="2.4" stroke-linecap="round" stroke-linejoin="round"/>
<path d="M1499.89,774.22 L1512.33,774.22" fill="none" stroke="#1e7fd2" stroke-width="2.4" stroke-linecap="round" stroke-linejoin="round"/>
<path d="M1506.87,763.33 L1506.87,779.78" fill="none" stroke="#1e7fd2" stroke-width="2.4" stroke-linecap="round" stroke-linejoin="round"/>
<path d="M1522.47,755.78 L1522.47,784.89" fill="none" stroke="#1e7fd2" stroke-width="2.7" stroke-linecap="round" stroke-linejoin="round"/>
<path d="M1518.91,762.00 L1517.76,769.11" fill="none" stroke="#1e7fd2" stroke-width="2.4" stroke-linecap="round" stroke-linejoin="round"/>
<path d="M1525.00,760.89 L1526.02,763.64" fill="none" stroke="#1e7fd2" stroke-width="2.4" stroke-linecap="round" stroke-linejoin="round"/>
<path d="M1528.11,757.69 L1546.78,757.69" fill="none" stroke="#1e7fd2" stroke-width="2.4" stroke-linecap="round" stroke-linejoin="round"/>
<path d="M1533.00,755.78 L1533.00,759.33" fill="none" stroke="#1e7fd2" stroke-width="2.4" stroke-linecap="round" stroke-linejoin="round"/>
<path d="M1541.67,755.78 L1541.67,759.33" fill="none" stroke="#1e7fd2" stroke-width="2.4" stroke-linecap="round" stroke-linejoin="round"/>
<path d="M1529.89,762.00 L1545.22,762.00" fill="none" stroke="#1e7fd2" stroke-width="2.4" stroke-linecap="round" stroke-linejoin="round"/>
<path d="M1528.11,765.87 L1547.09,765.87" fill="none" stroke="#1e7fd2" stroke-width="2.4" stroke-linecap="round" stroke-linejoin="round"/>
<path d="M1530.20,769.69 L1545.31,769.69 L1545.31,776.22 L1530.20,776.22 L1530.20,769.69" fill="none" stroke="#1e7fd2" stroke-width="2.4" stroke-linecap="round" stroke-linejoin="round"/>
<path d="M1532.33,772.89 L1543.44,772.89" fill="none" stroke="#1e7fd2" stroke-width="1.4" stroke-linecap="round" stroke-linejoin="round"/>
<path d="M1537.76,762.00 L1537.76,783.33" fill="none" stroke="#1e7fd2" stroke-width="2.4" stroke-linecap="round" stroke-linejoin="round"/>
<path d="M1529.31,779.78 L1546.11,779.78" fill="none" stroke="#1e7fd2" stroke-width="2.4" stroke-linecap="round" stroke-linejoin="round"/>
<path d="M1527.58,783.78 L1547.36,783.78" fill="none" stroke="#1e7fd2" stroke-width="2.4" stroke-linecap="round" stroke-linejoin="round"/>
<text x="1484.4" y="796.2" font-family="&quot;Liberation Sans&quot;, sans-serif" font-weight="bold" font-size="6.2" fill="#1e7fd2" textLength="64.7" lengthAdjust="spacing">NEATDOWN.COM</text>
</svg>
</body></html>
